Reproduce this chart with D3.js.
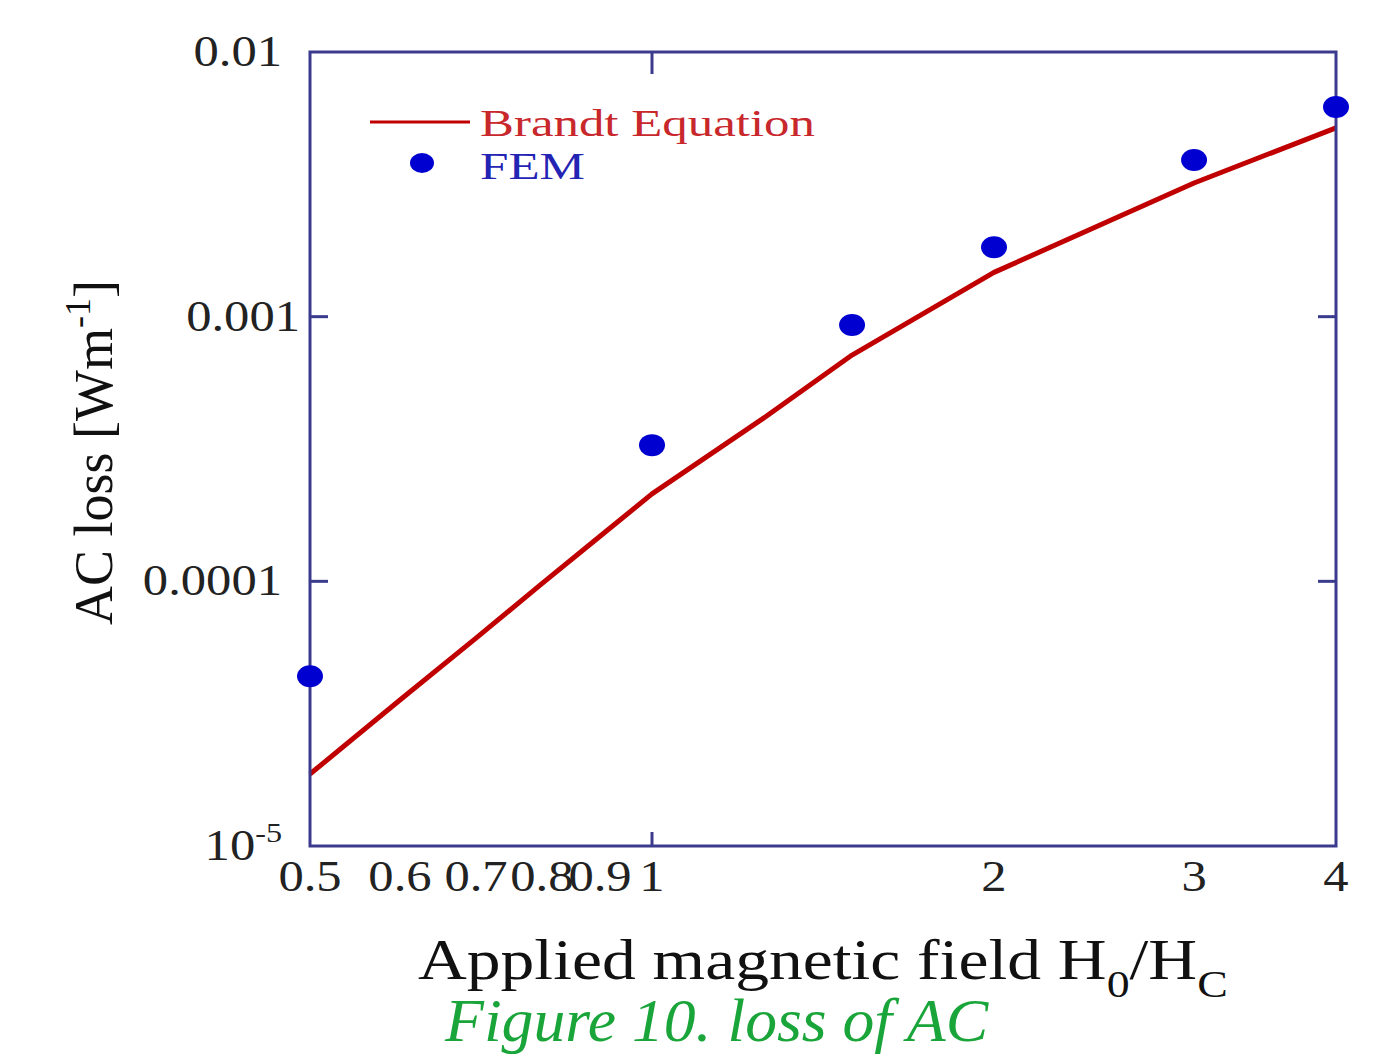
<!DOCTYPE html>
<html lang="en">
<head>
    <meta charset="UTF-8">
    <title>AC loss</title>
    <script src="https://d3js.org/d3.v7.min.js"></script>
    <style>
        body { margin: 0; background: #ffffff; }
    </style>
</head>
<body>
    <div id="chart"></div>
    <script>
        // data
        const xTicks = [0.5, 0.6, 0.7, 0.8, 0.9, 1, 2, 3, 4];
        const xTickLabels = ["0.5", "0.6", "0.7", "0.8", "0.9", "1", "2", "3", "4"];
        const yTicks = [0.01, 0.001, 0.0001];
        const yTickLabels = ["0.01", "0.001", "0.0001"];
        const brandtX = [0.5, 0.6, 0.7, 0.8, 0.9, 1, 1.25, 1.5, 2, 3, 4];
        const brandtY = [1.87e-5, 3.56e-5, 6.1e-5, 9.8e-5, 1.48e-4, 2.14e-4, 4.1e-4, 7.16e-4, 1.47e-3, 3.2e-3, 5.17e-3];
        const femX = [0.5, 1, 1.5, 2, 3, 4];
        const femY = [4.38e-5, 3.27e-4, 9.3e-4, 1.83e-3, 3.91e-3, 6.2e-3];

        const width = 1380, height = 1057;
        const frameColor = "#3b3b8e";
        const font = "'Liberation Serif', 'Times New Roman', serif";
        const sx = 1.15; // the original picture is stretched sideways

        const svg = d3.select("#chart").append("svg")
            .attr("width", width).attr("height", height)
            .style("font-family", font);

        const x = d3.scaleLog().domain([0.5, 4]).range([310, 1336]);
        const y = d3.scaleLog().domain([1e-5, 1e-2]).range([846, 52]);

        // squeeze/stretch a text so it covers w pixels along its own direction
        function fit(t, w) {
            const bw = t.node().getBBox().width;
            t.attr("transform", `scale(${w / bw},1)`);
        }

        // line
        const line = d3.line().x(d => x(d[0])).y(d => y(d[1]));
        svg.append("path")
            .datum(brandtX.map((v, i) => [v, brandtY[i]]))
            .attr("d", line)
            .attr("fill", "none")
            .attr("stroke", "#c00000")
            .attr("stroke-width", 5)
            .attr("stroke-linejoin", "round");

        // frame
        svg.append("rect")
            .attr("x", x(0.5)).attr("y", y(1e-2))
            .attr("width", x(4) - x(0.5)).attr("height", y(1e-5) - y(1e-2))
            .attr("fill", "none").attr("stroke", frameColor).attr("stroke-width", 3);

        // inward major ticks
        [1e-4, 1e-3].forEach(v => {
            svg.append("line").attr("x1", x(0.5)).attr("x2", x(0.5) + 18)
                .attr("y1", y(v)).attr("y2", y(v)).attr("stroke", frameColor).attr("stroke-width", 3);
            svg.append("line").attr("x1", x(4)).attr("x2", x(4) - 18)
                .attr("y1", y(v)).attr("y2", y(v)).attr("stroke", frameColor).attr("stroke-width", 3);
        });
        svg.append("line").attr("x1", x(1)).attr("x2", x(1))
            .attr("y1", y(1e-2)).attr("y2", y(1e-2) + 22).attr("stroke", frameColor).attr("stroke-width", 3);
        svg.append("line").attr("x1", x(1)).attr("x2", x(1))
            .attr("y1", y(1e-5)).attr("y2", y(1e-5) - 14).attr("stroke", frameColor).attr("stroke-width", 3);

        // FEM points
        svg.append("g").selectAll("ellipse")
            .data(femX.map((v, i) => [v, femY[i]]))
            .enter().append("ellipse")
            .attr("cx", d => x(d[0])).attr("cy", d => y(d[1]))
            .attr("rx", 13).attr("ry", 11)
            .attr("fill", "#0000d0");

        // x tick labels
        xTicks.forEach((v, i) => {
            svg.append("g").attr("transform", `translate(${x(v)},891)`)
                .append("text").attr("text-anchor", "middle")
                .attr("font-size", 44).attr("fill", "#222")
                .attr("transform", `scale(${sx},1)`)
                .text(xTickLabels[i]);
        });

        // y tick labels
        yTicks.forEach((v, i) => {
            svg.append("g").attr("transform", `translate(${v === 0.001 ? 300 : 282},${y(v) + 14})`)
                .append("text").attr("text-anchor", "end")
                .attr("font-size", 44).attr("fill", "#222")
                .attr("transform", `scale(${sx},1)`)
                .text(yTickLabels[i]);
        });
        const t5 = svg.append("g").attr("transform", `translate(282,${y(1e-5) + 14})`)
            .append("text").attr("text-anchor", "end").attr("font-size", 44).attr("fill", "#222")
            .attr("transform", `scale(${sx},1)`);
        t5.append("tspan").text("10");
        t5.append("tspan").attr("font-size", 28).attr("dy", -18).text("-5");

        // legend
        svg.append("line").attr("x1", 370).attr("x2", 470).attr("y1", 122).attr("y2", 122)
            .attr("stroke", "#c00000").attr("stroke-width", 3);
        svg.append("ellipse").attr("cx", 422).attr("cy", 163).attr("rx", 12).attr("ry", 10).attr("fill", "#0000d0");
        fit(svg.append("g").attr("transform", "translate(480,136)")
            .append("text").attr("font-size", 38).attr("fill", "#c8282c").text("Brandt Equation"), 335);
        fit(svg.append("g").attr("transform", "translate(480,179)")
            .append("text").attr("font-size", 38).attr("fill", "#2424b4").text("FEM"), 105);

        // x axis title
        const xt = svg.append("g").attr("transform", "translate(418,979)")
            .append("text").attr("font-size", 56).attr("fill", "#111");
        xt.append("tspan").text("Applied magnetic field H");
        xt.append("tspan").attr("font-size", 38).attr("dy", 18).text("0");
        xt.append("tspan").attr("dy", -18).text("/H");
        xt.append("tspan").attr("font-size", 38).attr("dy", 18).text("C");
        fit(xt, 810);

        // y axis title
        const yt = svg.append("g").attr("transform", "translate(112,625) rotate(-90)")
            .append("text").attr("font-size", 54).attr("fill", "#111");
        yt.append("tspan").text("AC  loss [Wm");
        yt.append("tspan").attr("font-size", 36).attr("dy", -22).text("-1");
        yt.append("tspan").attr("dy", 22).text("]");
        fit(yt, 345);

        // caption
        fit(svg.append("g").attr("transform", "translate(445,1041)")
            .append("text").attr("font-size", 62).attr("font-style", "italic")
            .attr("fill", "#1aa53a").text("Figure 10. loss of AC"), 545);
    </script>
</body>
</html>
